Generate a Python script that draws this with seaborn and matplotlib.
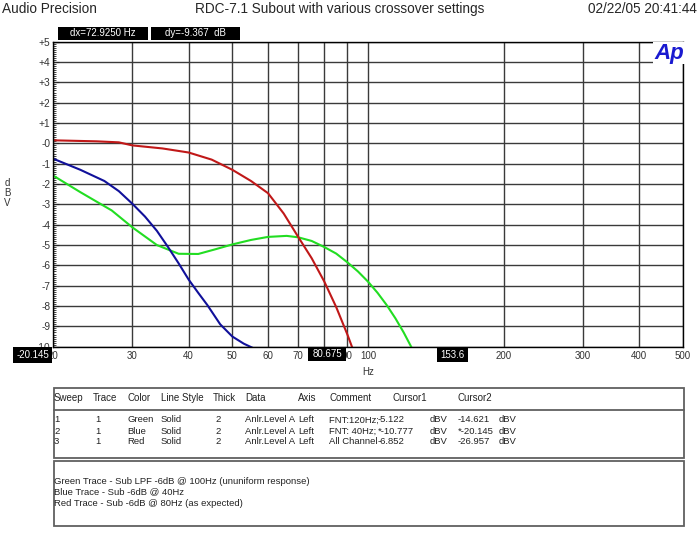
import numpy as np
import pandas as pd
import matplotlib
matplotlib.use("Agg")
import matplotlib.pyplot as plt
import seaborn as sns
from matplotlib.patches import Rectangle
from matplotlib.lines import Line2D
from matplotlib.transforms import Bbox, TransformedBbox
from matplotlib.ticker import FixedLocator, NullLocator, MultipleLocator, FixedFormatter

# ---------------- data ----------------
green_hz = [20, 23, 27, 30, 34, 38, 42, 46, 50, 55, 60, 66, 70, 75, 80, 85, 90, 95, 100, 105, 110, 115, 120, 125, 130]
green_db = [-1.58, -2.4, -3.3, -4.13, -5.0, -5.43, -5.44, -5.2, -4.97, -4.75, -4.6, -4.55, -4.62, -4.8, -5.1,
            -5.42, -5.85, -6.3, -6.8, -7.35, -7.95, -8.6, -9.3, -10.05, -10.8]
blue_hz = [20, 23, 26, 28, 30, 32, 34, 36, 38, 40, 42, 44, 47, 50, 53, 56, 60]
blue_db = [-0.75, -1.3, -1.85, -2.35, -2.97, -3.6, -4.3, -5.1, -5.9, -6.7, -7.35, -7.95, -8.9, -9.5, -9.85, -10.1, -10.5]
red_hz = [20, 25, 28, 30, 35, 40, 45, 50, 55, 60, 65, 70, 75, 80, 85, 90, 95]
red_db = [0.15, 0.1, 0.05, -0.1, -0.25, -0.45, -0.8, -1.3, -1.85, -2.45, -3.45, -4.6, -5.65, -6.8, -8.05, -9.4, -10.8]

x_ticks = [20, 30, 40, 50, 60, 70, 80, 90, 100, 200, 300, 400, 500]
x_tick_labels = ["20", "30", "40", "50", "60", "70", "80", "90", "100", "200", "300", "400", "500"]
y_ticks = [5, 4, 3, 2, 1, 0, -1, -2, -3, -4, -5, -6, -7, -8, -9, -10]
y_tick_labels = ["+5", "+4", "+3", "+2", "+1", "-0", "-1", "-2", "-3", "-4", "-5", "-6", "-7", "-8", "-9", "-10"]

table_headers = ["Sweep", "Trace", "Color", "Line Style", "Thick", "Data", "Axis", "Comment", "Cursor1", "Cursor2"]
table_rows = [
    ["1", "1", "Green", "Solid", "2", "Anlr.Level A", "Left", "FNT:120Hz; other channels"],
    ["2", "1", "Blue", "Solid", "2", "Anlr.Level A", "Left", "FNT: 40Hz; other channels"],
    ["3", "1", "Red", "Solid", "2", "Anlr.Level A", "Left", "All Channels 80Hz"],
]
cursor1_values = ["-5.122", "*-10.777", "-6.852"]
cursor2_values = ["-14.621", "*-20.145", "-26.957"]
cursor_unit = "dBV"
notes = ["Green Trace - Sub LPF -6dB @ 100Hz (ununiform response)",
         "Blue Trace - Sub -6dB @ 40Hz",
         "Red Trace - Sub -6dB @ 80Hz (as expected)"]

df = pd.concat([
    pd.DataFrame({"Hz": green_hz, "dB": green_db, "trace": "Green"}),
    pd.DataFrame({"Hz": blue_hz, "dB": blue_db, "trace": "Blue"}),
    pd.DataFrame({"Hz": red_hz, "dB": red_db, "trace": "Red"}),
], ignore_index=True)

# ---------------- style ----------------
sns.set_style("white")
plt.rcParams['font.family'] = ['Liberation Sans', 'DejaVu Sans']

W, H = 700, 542
fig = plt.figure(figsize=(7.0, 5.42), dpi=100)

def fx(px):
    return px / W

def fy(py):
    return 1 - py / H

L, R, T, B = 53, 683, 41.7, 346.7
ax = fig.add_axes([fx(L), fy(B), fx(R) - fx(L), fy(T) - fy(B)])

palette = {"Green": "#22dd22", "Blue": "#10109a", "Red": "#c01818"}
sns.lineplot(data=df, x="Hz", y="dB", hue="trace", palette=palette, sort=False,
             estimator=None, legend=False, linewidth=1.5, ax=ax)

ax.set_xscale("log")
ax.set_xlim(20, 500)
ax.set_ylim(-10, 5)
ax.xaxis.set_major_locator(FixedLocator(x_ticks))
ax.xaxis.set_major_formatter(FixedFormatter(x_tick_labels))
ax.xaxis.set_minor_locator(NullLocator())
ax.yaxis.set_major_locator(FixedLocator(y_ticks))
ax.yaxis.set_major_formatter(FixedFormatter(y_tick_labels))
ax.yaxis.set_minor_locator(MultipleLocator(0.1))
ax.set_xlabel("")
ax.set_ylabel("")
ax.grid(True, which="major", color="#3a3a3a", linewidth=1.0)
ax.tick_params(axis="x", length=0, pad=3, labelsize=7, labelcolor="#333333")
ax.tick_params(axis="y", which="major", direction="in", length=4, pad=2, labelsize=7.3, labelcolor="#333333", left=True)
ax.tick_params(axis="y", which="minor", direction="in", length=2.2, width=0.6, left=True)
for s in ax.spines.values():
    s.set_color("black")
    s.set_linewidth(1.0)

# ---------------- header texts ----------------
fig.text(fx(2), fy(9), "Audio Precision", fontsize=9.8, va="center", ha="left")
fig.text(fx(195), fy(9), "RDC-7.1 Subout with various crossover settings", fontsize=9.8, va="center", ha="left")
fig.text(fx(697), fy(9), "02/22/05 20:41:44", fontsize=9.8, va="center", ha="right")

for i, ch in enumerate(["d", "B", "V"]):
    fig.text(fx(7), fy(183 + 10 * i), ch, fontsize=7, ha="center", va="center", color="#333333")
fig.text(fx(368), fy(372), "Hz", fontsize=7, ha="center", va="center", color="#333333")

# Ap logo
fig.text(fx(669), fy(53), "Ap", fontsize=16, fontweight="bold", style="italic", color="#1a1ad0",
         ha="center", va="center", bbox=dict(facecolor="white", edgecolor="none", pad=0.5))

def black_box(x0, y0, x1, y1, text):
    fig.patches.append(Rectangle((fx(x0), fy(y1)), fx(x1) - fx(x0), fy(y0) - fy(y1),
                                 transform=fig.transFigure, facecolor="black", edgecolor="none", zorder=5))
    fig.text(fx((x0 + x1) / 2), fy((y0 + y1) / 2), text, color="white", fontsize=7,
             ha="center", va="center", zorder=6)

black_box(58, 27, 148, 40, "dx=72.9250 Hz")
black_box(151, 27, 240, 40, "dy=-9.367  dB")
black_box(13, 347, 52, 363, "-20.145")
black_box(308, 347, 346, 361, "80.675")
black_box(437, 347, 468, 362, "153.6")

# ---------------- table ----------------
def frame(x0, y0, x1, y1):
    fig.patches.append(Rectangle((fx(x0), fy(y1)), fx(x1) - fx(x0), fy(y0) - fy(y1),
                                 transform=fig.transFigure, facecolor="none", edgecolor="#606060", lw=1.3))

frame(53.5, 387.5, 684, 458)
fig.lines.append(Line2D([fx(53.5), fx(684)], [fy(409.5), fy(409.5)], transform=fig.transFigure,
                        color="#606060", lw=1.3))
frame(53.5, 460.5, 684, 525.5)

head_x = [54, 93, 127, 161, 213, 245, 298, 329, 392, 458]
row_x = [54, 95, 127, 161, 215, 245, 298, 329]
TXT = "#222222"
FS = 6.8
for hx, h in zip(head_x, table_headers):
    fig.text(fx(hx), fy(398), h, fontsize=7, ha="left", va="center", color=TXT)

clip = TransformedBbox(Bbox([[fx(320), fy(460)], [fx(378), fy(410)]]), fig.transFigure)
for r, row in enumerate(table_rows):
    yy = fy(420 + 11 * r)
    for c, val in enumerate(row):
        t = fig.text(fx(row_x[c]), yy, val, fontsize=FS, ha="left", va="center", color=TXT)
        if c == 7:
            t.set_clip_box(clip)
            t.set_clip_on(True)
    fig.text(fx(378), yy, cursor1_values[r], fontsize=FS, ha="left", va="center", color=TXT)
    fig.text(fx(430), yy, cursor_unit, fontsize=FS, ha="left", va="center", color=TXT)
    fig.text(fx(458), yy, cursor2_values[r], fontsize=FS, ha="left", va="center", color=TXT)
    fig.text(fx(499), yy, cursor_unit, fontsize=FS, ha="left", va="center", color=TXT)

for i, n in enumerate(notes):
    fig.text(fx(54), fy(481 + 11 * i), n, fontsize=FS, ha="left", va="center", color=TXT)

fig.savefig("out.png", dpi=100)
